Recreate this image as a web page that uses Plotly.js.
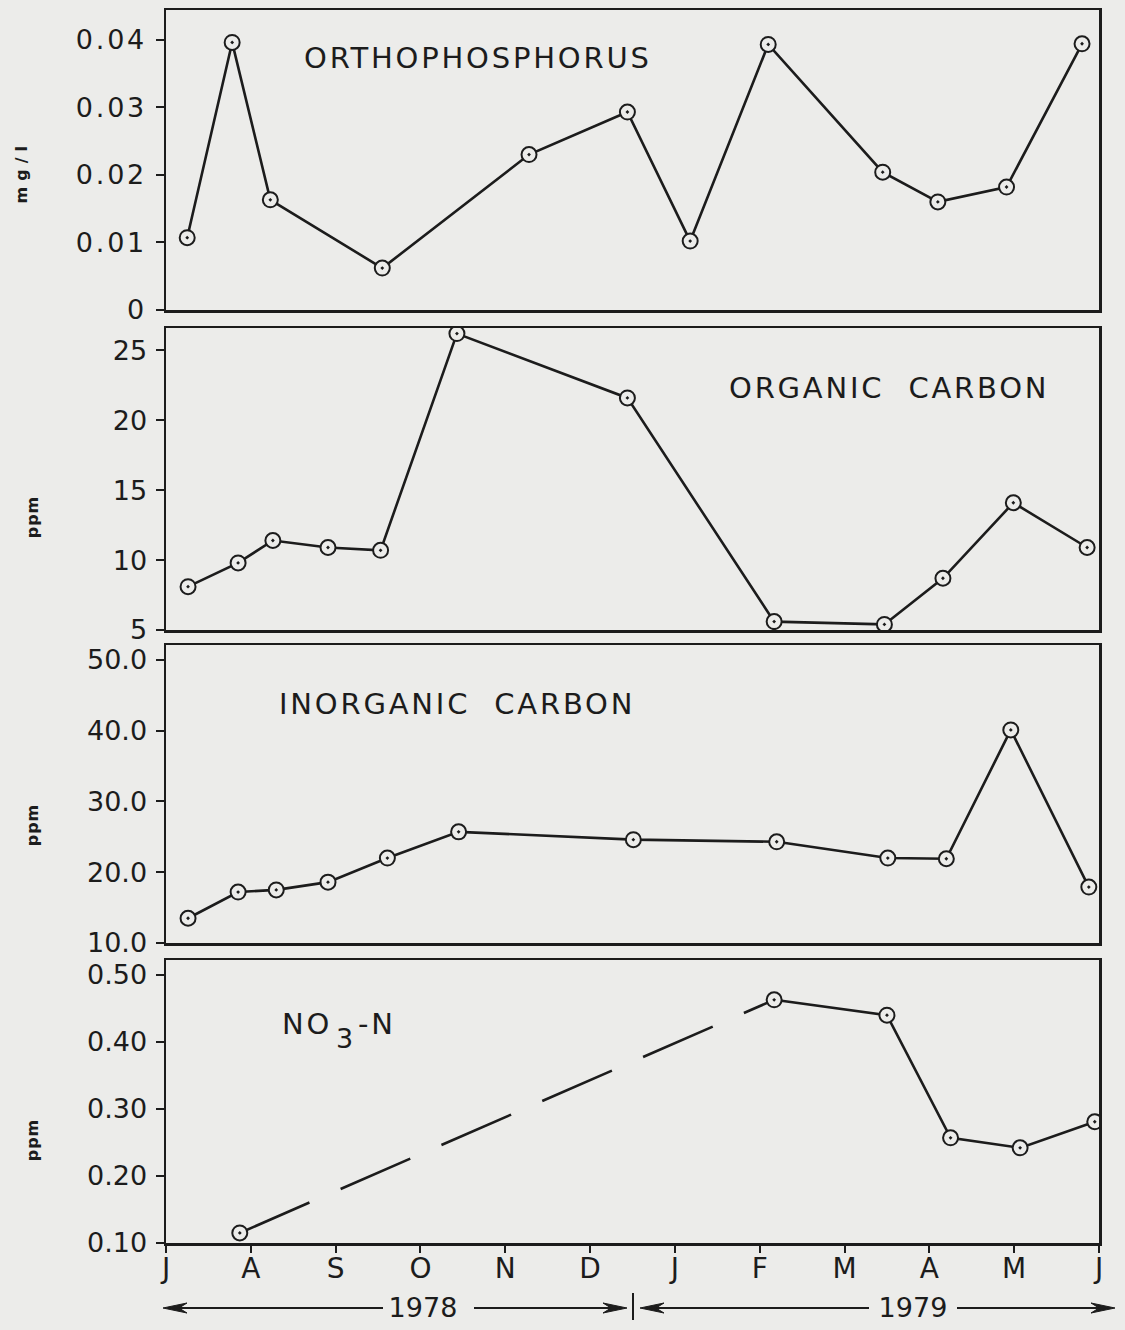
<!DOCTYPE html>
<html>
<head>
<meta charset="utf-8">
<script src="https://cdn.plot.ly/plotly-3.0.1.min.js"></script>
<style>
  body { margin: 0; background: #ececea; }
  .annotation-text, .ytick text, .xtick text { letter-spacing: 2.8px; }
  .annotation[data-index="0"] .annotation-text { letter-spacing: 6px; }
  .annotation[data-index="1"] .annotation-text,
  .annotation[data-index="2"] .annotation-text,
  .annotation[data-index="3"] .annotation-text { letter-spacing: 1px; }
  .annotation[data-index="4"] .annotation-text,
  .annotation[data-index="5"] .annotation-text { letter-spacing: 0px; }
</style>
</head>
<body>
<div id="chart" style="width:1125px;height:1330px;"></div>
<script>
// ---- data (x = months after 1 July 1978) ----
const monthTicks  = [0, 1, 2, 3, 4, 5, 6, 7, 8, 9, 10, 11];
const monthLabels = ['J', 'A', 'S', 'O', 'N', 'D', 'J', 'F', 'M', 'A', 'M', 'J'];

const phosMonth = [0.25, 0.78, 1.23, 2.55, 4.28, 5.44, 6.18, 7.10, 8.45, 9.10, 9.91, 10.80];
const phosValue = [0.0107, 0.0396, 0.0163, 0.0062, 0.0230, 0.0293, 0.0102, 0.0393, 0.0204, 0.0160, 0.0182, 0.0394];

const orgMonth = [0.26, 0.85, 1.26, 1.91, 2.53, 3.43, 5.44, 7.17, 8.47, 9.16, 9.99, 10.86];
const orgValue = [8.1, 9.8, 11.4, 10.9, 10.7, 26.2, 21.6, 5.6, 5.4, 8.7, 14.1, 10.9];

const inorgMonth = [0.26, 0.85, 1.30, 1.91, 2.61, 3.45, 5.51, 7.20, 8.51, 9.20, 9.96, 10.88];
const inorgValue = [13.5, 17.2, 17.5, 18.6, 22.0, 25.7, 24.6, 24.3, 22.0, 21.9, 40.1, 17.9];

const nitMonth = [0.87, 7.17, 8.50, 9.25, 10.07, 10.95];
const nitValue = [0.115, 0.463, 0.440, 0.257, 0.242, 0.281];

const phosTicks = [0, 0.01, 0.02, 0.03, 0.04];
const phosTickText = ['0', '0.01', '0.02', '0.03', '0.04'];
const orgTicks = [5, 10, 15, 20, 25];
const inorgTicks = [10, 20, 30, 40, 50];
const inorgTickText = ['10.0', '20.0', '30.0', '40.0', '50.0'];
const nitTicks = [0.1, 0.2, 0.3, 0.4, 0.5];
const nitTickText = ['0.10', '0.20', '0.30', '0.40', '0.50'];

const unitLabels = ['mg/l', 'ppm', 'ppm', 'ppm'];
const yearLabels = ['1978', '1979'];
// panel names; NO3-N is set in three pieces so the "3" sits lowered at full size
const panelLabels = ['ORTHOPHOSPHORUS', 'ORGANIC\u00a0 CARBON', 'INORGANIC\u00a0 CARBON', 'NO', '3', '-N'];

// ---- styling ----
const ink = '#1c1c1c';
const bg = '#ececea';
const font = 'DejaVu Sans, sans-serif';

const markerStyle = { symbol: 'circle-dot', size: 15, color: bg, line: { color: ink, width: 2 } };
const lineStyle = { color: ink, width: 2.6 };

function series(x, y, xa, ya) {
  return { x: x, y: y, xaxis: xa, yaxis: ya, mode: 'lines+markers', type: 'scatter',
           line: lineStyle, marker: markerStyle, hoverinfo: 'x+y' };
}

const traces = [
  series(phosMonth, phosValue, 'x', 'y'),
  series(orgMonth, orgValue, 'x2', 'y2'),
  series(inorgMonth, inorgValue, 'x3', 'y3'),
  { x: nitMonth.slice(0, 2), y: nitValue.slice(0, 2), xaxis: 'x4', yaxis: 'y4', mode: 'lines',
    type: 'scatter', line: { color: ink, width: 2.6, dash: '76px,34px' }, hoverinfo: 'skip' },
  { x: nitMonth.slice(1), y: nitValue.slice(1), xaxis: 'x4', yaxis: 'y4', mode: 'lines',
    type: 'scatter', line: lineStyle, hoverinfo: 'skip' },
  { x: nitMonth, y: nitValue, xaxis: 'x4', yaxis: 'y4', mode: 'markers', type: 'scatter',
    marker: markerStyle, hoverinfo: 'x+y' }
];

const xBase = { range: [0, 11], showgrid: false, zeroline: false, showline: true,
  linecolor: ink, linewidth: 2.5, mirror: true, fixedrange: true };
const yBase = { showgrid: false, zeroline: false, showline: true, linecolor: ink,
  linewidth: 2.5, mirror: true, ticks: 'outside', ticklen: 8, tickwidth: 2, tickcolor: ink,
  tickmode: 'array', ticklabelstandoff: 3, fixedrange: true,
  tickfont: { family: font, size: 27, color: ink } };

// decoration helpers (pixel -> paper)
const L = 166, R = 1099, T = 10, B = 1243;
const PX = p => (p - L) / (R - L);
const PY = p => (B - p) / (B - T);

const layout = {
  width: 1125, height: 1330,
  margin: { l: L, r: 1125 - R, t: T, b: 1330 - B },
  paper_bgcolor: bg, plot_bgcolor: bg,
  showlegend: false,
  font: { family: font, size: 28, color: ink },
  xaxis:  Object.assign({}, xBase, { anchor: 'y',  ticks: '', showticklabels: false }),
  xaxis2: Object.assign({}, xBase, { anchor: 'y2', ticks: '', showticklabels: false, matches: 'x' }),
  xaxis3: Object.assign({}, xBase, { anchor: 'y3', ticks: '', showticklabels: false, matches: 'x' }),
  xaxis4: Object.assign({}, xBase, { anchor: 'y4', matches: 'x', ticks: 'outside', ticklen: 7,
    tickwidth: 2, tickcolor: ink, tickmode: 'array', tickvals: monthTicks, ticktext: monthLabels,
    ticklabelstandoff: -8, tickfont: { family: font, size: 28, color: ink } }),
  yaxis:  Object.assign({}, yBase, { anchor: 'x',  domain: [PY(310), PY(T)], range: [0, 0.0444],
    tickvals: phosTicks, ticktext: phosTickText }),
  yaxis2: Object.assign({}, yBase, { anchor: 'x2', domain: [PY(630), PY(328)], range: [5, 26.6],
    tickvals: orgTicks, ticktext: orgTicks.map(String) }),
  yaxis3: Object.assign({}, yBase, { anchor: 'x3', domain: [PY(943), PY(645)], range: [10, 52.1],
    tickvals: inorgTicks, ticktext: inorgTickText }),
  yaxis4: Object.assign({}, yBase, { anchor: 'x4', domain: [0, PY(960)], range: [0.1, 0.5224],
    tickvals: nitTicks, ticktext: nitTickText }),
  annotations: [],
  shapes: []
};

// units (annotation indices 0-3)
const unitPos = [[22, 172], [32, 517], [32, 825], [32, 1140]];
unitLabels.forEach((t, i) => {
  layout.annotations.push({ text: t, xref: 'paper', yref: 'paper', x: PX(unitPos[i][0]), y: PY(unitPos[i][1]),
    xanchor: 'center', yanchor: 'middle', textangle: -90, showarrow: false,
    font: { family: font, size: 16, weight: 'bold', color: ink } });
});

// years (indices 4-5)
const yearRow = 1308;
const yearCenters = [423, 913];
yearLabels.forEach((t, i) => {
  layout.annotations.push({ text: t, xref: 'paper', yref: 'paper', x: PX(yearCenters[i]), y: PY(yearRow),
    xanchor: 'center', yanchor: 'middle', showarrow: false, font: { family: font, size: 27, color: ink } });
});

// panel names (indices 6+)
const labelPos = [[302, 57.5], [727, 387.5], [277, 704], [280, 1024], [334, 1038], [356, 1024]];
const labelSize = [29, 29, 29, 29, 27, 29];
panelLabels.forEach((t, i) => {
  layout.annotations.push({ text: t, xref: 'paper', yref: 'paper', x: PX(labelPos[i][0]), y: PY(labelPos[i][1]),
    xanchor: 'left', yanchor: 'middle', showarrow: false, font: { family: font, size: labelSize[i], color: ink } });
});

// year arrows drawn as shapes: [head px, tail px]
const yearArrows = [[163, 383], [627, 474], [640, 869], [1115, 957]];
yearArrows.forEach(a => {
  const h = a[0], t = a[1], d = Math.sign(t - h);
  layout.shapes.push({ type: 'line', xref: 'paper', yref: 'paper',
    x0: PX(h + d * 10), x1: PX(t), y0: PY(yearRow), y1: PY(yearRow), line: { color: ink, width: 2 } });
  layout.shapes.push({ type: 'path', xref: 'paper', yref: 'paper', fillcolor: ink, line: { color: ink, width: 1 },
    path: 'M ' + PX(h) + ',' + PY(yearRow) +
          ' L ' + PX(h + d * 24) + ',' + PY(yearRow - 5) +
          ' L ' + PX(h + d * 16) + ',' + PY(yearRow) +
          ' L ' + PX(h + d * 24) + ',' + PY(yearRow + 5) + ' Z' });
});
// divider between the years
layout.shapes.push({ type: 'line', xref: 'paper', yref: 'paper', x0: PX(633), x1: PX(633),
  y0: PY(1293), y1: PY(1320), line: { color: ink, width: 2 } });

Plotly.newPlot('chart', traces, layout, { displayModeBar: false, staticPlot: true });
</script>
</body>
</html>
